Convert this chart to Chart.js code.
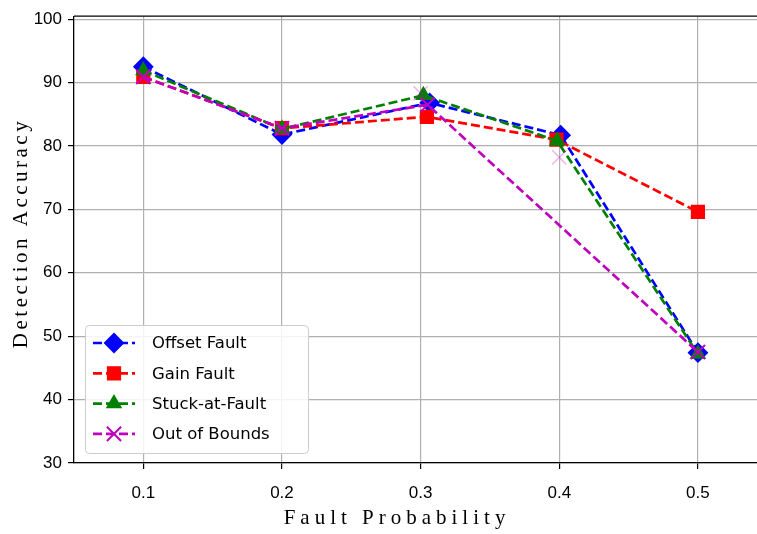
<!DOCTYPE html>
<html>
<head>
<meta charset="utf-8">
<script src="https://cdn.jsdelivr.net/npm/chart.js@4.4.1/dist/chart.umd.min.js"></script>
<style>
    html, body { margin: 0; padding: 0; background: #fff; }
    #wrap { width: 757px; height: 534px; }
</style>
</head>
<body>
<div id="wrap"><canvas id="chart"></canvas></div>
<script>
// Ticks
const xTicks = [0.1, 0.2, 0.3, 0.4, 0.5];
const yTicks = [30, 40, 50, 60, 70, 80, 90, 100];

// Series (x: markers at 0.3 / 0.4 sit a bit off the grid line)
const seriesNames = ['Offset Fault', 'Gain Fault', 'Stuck-at-Fault', 'Out of Bounds'];
const offsetX = [0.1, 0.2, 0.3065, 0.401, 0.5];
const offsetY = [92.5, 81.8, 86.8, 81.7, 47.4];
const gainX = [0.1, 0.2, 0.3045, 0.398, 0.5];
const gainY = [90.9, 82.8, 84.6, 81.0, 69.6];
const stuckX = [0.1, 0.2, 0.302, 0.3985, 0.5];
const stuckY = [91.9, 82.7, 88.0, 80.8, 47.2];
const boundsX = [0.1, 0.2, 0.305, 0.5];
const boundsY = [90.9, 82.8, 86.5, 47.5];
// faint stray markers of Out of Bounds
const boundsFaintX = [0.3, 0.4];
const boundsFaintY = [88.3, 78.2];

const pts = (xs, ys) => xs.map((x, i) => ({ x: x, y: ys[i] }));

const styles = [
    { color: '#0000ff', pointStyle: 'rectRot', radius: 9, border: 2 },
    { color: '#ff0000', pointStyle: 'rect', radius: 9, border: 1.5 },
    { color: '#008000', pointStyle: 'triangle', radius: 8, border: 1.5 },
    { color: '#bf00bf', pointStyle: 'crossRot', radius: 10, border: 2 }
];
const seriesData = [pts(offsetX, offsetY), pts(gainX, gainY), pts(stuckX, stuckY), pts(boundsX, boundsY)];

const datasets = seriesNames.map((name, i) => ({
    label: name,
    data: seriesData[i],
    borderColor: styles[i].color,
    backgroundColor: styles[i].color,
    borderWidth: 2.7,
    borderDash: [9, 4],
    pointStyle: styles[i].pointStyle,
    pointRadius: styles[i].radius,
    pointBorderWidth: styles[i].border,
    pointBorderColor: styles[i].color,
    pointBackgroundColor: styles[i].color,
    tension: 0,
    fill: false,
    order: 3 - i
}));
datasets.push({
    label: '',
    data: pts(boundsFaintX, boundsFaintY),
    showLine: false,
    pointStyle: 'crossRot',
    pointRadius: 10,
    pointBorderWidth: 1.5,
    pointBorderColor: 'rgba(191, 0, 191, 0.3)',
    borderColor: 'rgba(191, 0, 191, 0.3)',
    order: -1
});

// Legend inside the plot, axis titles, top spine
const extras = {
    id: 'extras',
    afterDraw(chart) {
        const ctx = chart.ctx;
        const area = chart.chartArea;
        ctx.save();

        // top spine
        ctx.strokeStyle = '#000';
        ctx.lineWidth = 1.3;
        ctx.beginPath();
        ctx.moveTo(area.left, area.top);
        ctx.lineTo(area.right, area.top);
        ctx.stroke();

        // axis titles
        ctx.fillStyle = '#000';
        ctx.font = '21px "Liberation Serif", serif';
        ctx.letterSpacing = '5px';
        ctx.textAlign = 'center';
        ctx.textBaseline = 'middle';
        ctx.fillText('Fault Probability', 397, 518);
        ctx.save();
        ctx.translate(21, 233);
        ctx.rotate(-Math.PI / 2);
        ctx.font = '21px "Liberation Serif", serif';
        ctx.letterSpacing = '3.5px';
        ctx.fillText('Detection Accuracy', 0, 0);
        ctx.restore();
        ctx.letterSpacing = '0px';

        // legend box
        const bx = 85, by = 325, bw = 223, bh = 128;
        ctx.fillStyle = 'rgba(255,255,255,0.85)';
        ctx.strokeStyle = '#cccccc';
        ctx.lineWidth = 1;
        ctx.beginPath();
        ctx.roundRect(bx + 0.5, by + 0.5, bw, bh, 4);
        ctx.fill();
        ctx.stroke();

        ctx.font = '16.5px "DejaVu Sans", sans-serif';
        ctx.textAlign = 'left';
        seriesNames.forEach((name, i) => {
            const y = 343 + i * 30.3;
            const s = styles[i];
            ctx.strokeStyle = s.color;
            ctx.fillStyle = s.color;
            ctx.lineWidth = 2.7;
            ctx.setLineDash([9, 4]);
            ctx.beginPath();
            ctx.moveTo(93, y);
            ctx.lineTo(135, y);
            ctx.stroke();
            ctx.setLineDash([]);
            ctx.lineWidth = s.border;
            Chart.helpers.drawPoint(ctx, {
                pointStyle: s.pointStyle, radius: s.radius, rotation: 0, borderWidth: s.border
            }, 114, y);
            ctx.fillStyle = '#000';
            ctx.fillText(name, 152, y + 1);
        });
        ctx.restore();
    }
};

const tickFont = { family: '"Liberation Sans", Arial, sans-serif', size: 17 };

new Chart(document.getElementById('chart').getContext('2d'), {
    type: 'line',
    data: { datasets: datasets },
    plugins: [extras],
    options: {
        responsive: true,
        maintainAspectRatio: false,
        animation: false,
        layout: { autoPadding: false, padding: { top: 11, left: 0, right: 0, bottom: 0 } },
        plugins: {
            legend: { display: false },
            tooltip: { enabled: false }
        },
        scales: {
            x: {
                type: 'linear',
                min: 0.05,
                max: 0.5426,
                afterBuildTicks: s => { s.ticks = xTicks.map(v => ({ value: v })); },
                afterFit: s => { s.height = 71; },
                grid: { color: '#b0b0b0', lineWidth: 1.2, tickColor: '#000', tickLength: 6 },
                border: { color: '#000', width: 1.3 },
                ticks: {
                    color: '#000',
                    font: tickFont,
                    padding: 14,
                    maxRotation: 0,
                    callback: v => v.toFixed(1)
                }
            },
            y: {
                min: 30,
                max: 100.47,
                afterBuildTicks: s => { s.ticks = yTicks.map(v => ({ value: v })); },
                afterFit: s => { s.width = 74; },
                grid: { color: '#b0b0b0', lineWidth: 1.2, tickColor: '#000', tickLength: 6 },
                border: { color: '#000', width: 1.3 },
                ticks: {
                    color: '#000',
                    font: tickFont,
                    padding: 6,
                    callback: v => String(v)
                }
            }
        }
    }
});
</script>
</body>
</html>
